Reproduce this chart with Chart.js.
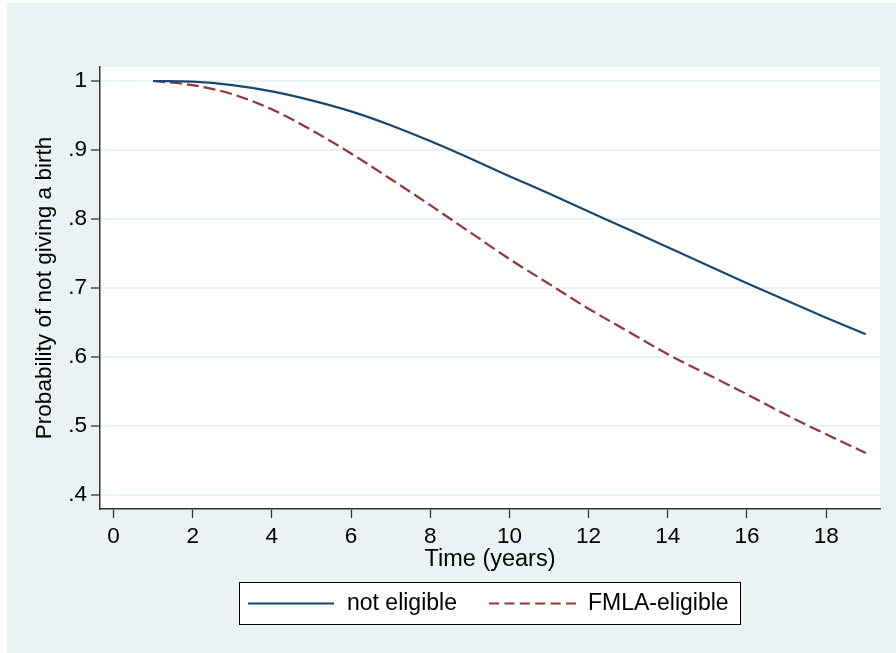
<!DOCTYPE html>
<html>
<head>
<meta charset="utf-8">
<script src="https://cdn.jsdelivr.net/npm/chart.js@4/dist/chart.umd.min.js"></script>
<style>
  html, body { margin: 0; padding: 0; background: #ffffff; }
  #wrap { width: 896px; height: 653px; }
</style>
</head>
<body>
<div id="wrap"><canvas id="c" width="896" height="653"></canvas></div>
<script>
// ---- data ----
const times = [1, 2, 3, 4, 5, 6, 7, 8, 9, 10, 11, 12, 13, 14, 15, 16, 17, 18, 19];
const notEligible = [1.000, 0.999, 0.994, 0.985, 0.972, 0.956, 0.936, 0.913, 0.888, 0.862, 0.837, 0.811, 0.785, 0.759, 0.733, 0.707, 0.682, 0.657, 0.633];
const fmlaEligible = [1.000, 0.994, 0.981, 0.959, 0.929, 0.895, 0.858, 0.820, 0.781, 0.742, 0.706, 0.670, 0.637, 0.604, 0.575, 0.546, 0.516, 0.488, 0.461];
const seriesNames = ['not eligible', 'FMLA-eligible'];
const xTicks = [0, 2, 4, 6, 8, 10, 12, 14, 16, 18];
const yTicks = [0.4, 0.5, 0.6, 0.7, 0.8, 0.9, 1.0];
const yTickLabels = ['.4', '.5', '.6', '.7', '.8', '.9', '1'];
const xTitle = 'Time (years)';
const yTitle = 'Probability of not giving a birth';

const FONT = "'Liberation Sans', Arial, Helvetica, sans-serif";
const BLUE = '#1a476f';
const RED = '#90353b';
const BG = '#eaf2f3';
const AXIS = '#333333';

const bgPlugin = {
  id: 'bg',
  beforeDraw(chart) {
    const ctx = chart.ctx, a = chart.chartArea;
    ctx.save();
    ctx.fillStyle = '#ffffff';
    ctx.fillRect(0, 0, chart.width, chart.height);
    ctx.fillStyle = BG;
    ctx.fillRect(7, 3, chart.width - 7, chart.height - 3);
    ctx.fillStyle = '#ffffff';
    ctx.fillRect(a.left, a.top, a.right - a.left, a.bottom - a.top);
    ctx.restore();
  }
};

const legendPlugin = {
  id: 'boxLegend',
  afterDraw(chart) {
    const ctx = chart.ctx;
    ctx.save();
    ctx.fillStyle = '#ffffff';
    ctx.fillRect(239.5, 582.5, 501, 42);
    ctx.strokeStyle = '#000000';
    ctx.lineWidth = 1;
    ctx.strokeRect(239.5, 582.5, 501, 42);
    const cy = 603.5;
    const items = [
      { x0: 248, x1: 334, tx: 347, dash: [] },
      { x0: 489, x1: 576, tx: 588, dash: [10, 5.4] }
    ];
    chart.data.datasets.forEach((ds, i) => {
      const it = items[i];
      ctx.strokeStyle = ds.borderColor;
      ctx.lineWidth = ds.borderWidth;
      ctx.setLineDash(it.dash);
      ctx.beginPath();
      ctx.moveTo(it.x0, cy);
      ctx.lineTo(it.x1, cy);
      ctx.stroke();
      ctx.setLineDash([]);
      ctx.fillStyle = '#000000';
      ctx.font = '23px ' + FONT;
      ctx.textBaseline = 'middle';
      ctx.textAlign = 'left';
      ctx.fillText(ds.label, it.tx, cy);
    });
    ctx.restore();
  }
};

new Chart(document.getElementById('c'), {
  type: 'line',
  data: {
    datasets: [
      {
        label: seriesNames[0],
        data: times.map((t, i) => ({ x: t, y: notEligible[i] })),
        borderColor: BLUE,
        borderWidth: 2.2,
        pointRadius: 0,
        fill: false,
        cubicInterpolationMode: 'monotone'
      },
      {
        label: seriesNames[1],
        data: times.map((t, i) => ({ x: t, y: fmlaEligible[i] })),
        borderColor: RED,
        borderWidth: 2.2,
        borderDash: [12, 5],
        pointRadius: 0,
        fill: false,
        cubicInterpolationMode: 'monotone'
      }
    ]
  },
  options: {
    responsive: false,
    animation: false,
    devicePixelRatio: 1,
    layout: { padding: { left: 31, top: 67, right: 16, bottom: 79 } },
    plugins: { legend: { display: false }, tooltip: { enabled: false } },
    scales: {
      x: {
        type: 'linear',
        min: -0.34,
        max: 19.36,
        afterBuildTicks(scale) { scale.ticks = xTicks.map(v => ({ value: v })); },
        afterFit(scale) { scale.height = 65; },
        grid: { display: true, drawOnChartArea: false, drawTicks: true, tickLength: 9, tickColor: AXIS, tickWidth: 1.3 },
        border: { display: true, color: AXIS, width: 1.5 },
        ticks: { color: '#000', font: { family: FONT, size: 22.5 }, padding: 5, maxRotation: 0, autoSkip: false },
        title: { display: true, text: xTitle, color: '#000', font: { family: FONT, size: 23.5 }, padding: 0 }
      },
      y: {
        type: 'linear',
        min: 0.3797,
        max: 1.0203,
        afterBuildTicks(scale) { scale.ticks = yTicks.map(v => ({ value: v })); },
        afterFit(scale) { scale.width = 69; },
        grid: { display: true, drawOnChartArea: true, color: BG, lineWidth: 2, drawTicks: true, tickLength: 9, tickColor: AXIS, tickWidth: 1.3 },
        border: { display: true, color: AXIS, width: 1.5 },
        ticks: {
          color: '#000', font: { family: FONT, size: 22.5 }, padding: 4, autoSkip: false,
          callback: (v) => { const k = yTicks.findIndex(t => Math.abs(t - v) < 1e-9); return k >= 0 ? yTickLabels[k] : ''; }
        },
        title: { display: true, text: yTitle, color: '#000', font: { family: FONT, size: 22.6 }, padding: 0 }
      }
    }
  },
  plugins: [bgPlugin, legendPlugin]
});
</script>
</body>
</html>
